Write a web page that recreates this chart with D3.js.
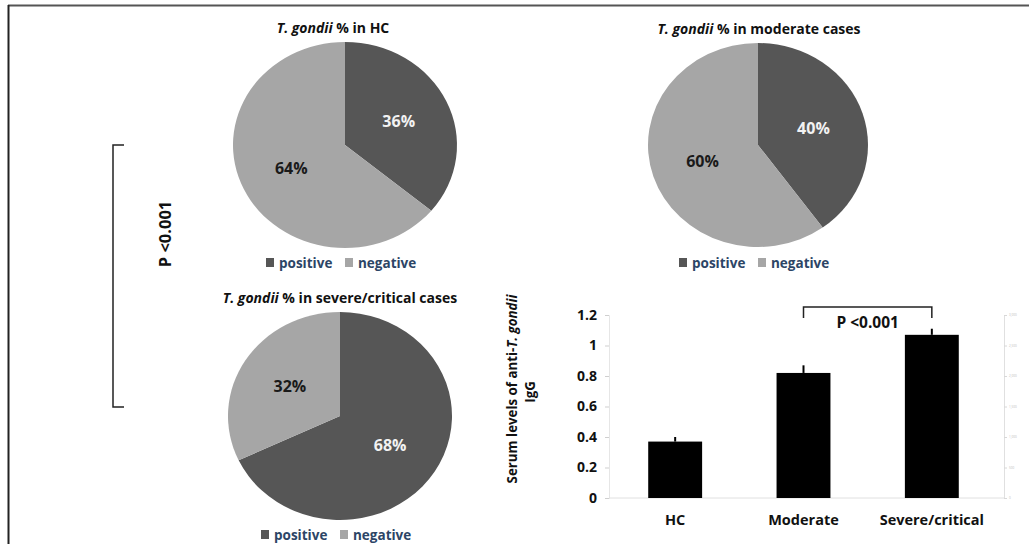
<!DOCTYPE html>
<html>
<head>
<meta charset="utf-8">
<script src="https://cdn.jsdelivr.net/npm/d3@7"></script>
<style>
  body { margin: 0; background: #fff; }
  text { font-family: "Open Sans", Lato, sans-serif; font-weight: 700; }
</style>
</head>
<body>
<div id="chart"></div>
<script>
// pie data (percentages)
const pieGroups = ['in HC', 'in moderate cases', 'in severe/critical cases'];
const positivePct = [36, 40, 68];
const negativePct = [64, 60, 32];
const legendLabels = ['positive', 'negative'];

// bar data
const barCategories = ['HC', 'Moderate', 'Severe/critical'];
const barMeans = [0.37, 0.82, 1.07];
const barErrors = [0.03, 0.05, 0.04];
const yTicks = [0, 0.2, 0.4, 0.6, 0.8, 1, 1.2];
const rightTicks = [0, 500, 1000, 1500, 2000, 2500, 3000];

const W = 1029, H = 544;
const colors = { positive: '#565656', negative: '#a6a6a6' };

const svg = d3.select('#chart').append('svg')
  .attr('width', W).attr('height', H);

// frame (top + left)
svg.append('line').attr('x1', 8).attr('x2', W).attr('y1', 5.5).attr('y2', 5.5)
  .attr('stroke', '#555').attr('stroke-width', 2);
svg.append('line').attr('x1', 8.5).attr('x2', 8.5).attr('y1', 5).attr('y2', H)
  .attr('stroke', '#222').attr('stroke-width', 2);

// layout of the three pies
const pieLayout = [
  { cx: 345, cy: 145, rx: 112, ry: 103, titleX: 333, titleY: 28, legendY: 263 },
  { cx: 758, cy: 145, rx: 110, ry: 102, titleX: 759, titleY: 29, legendY: 263 },
  { cx: 340, cy: 416, rx: 112, ry: 104, titleX: 340, titleY: 298, legendY: 535 },
];

const pie = d3.pie().sort(null).value((d) => d.value);

pieLayout.forEach((p, i) => {
  const data = [
    { key: 'positive', value: positivePct[i] },
    { key: 'negative', value: negativePct[i] },
  ];
  const sx = p.rx / p.ry;
  const arc = d3.arc().innerRadius(0).outerRadius(p.ry);
  const labelArc = d3.arc().innerRadius(p.ry * 0.53).outerRadius(p.ry * 0.53);

  const g = svg.append('g').attr('transform', `translate(${p.cx},${p.cy})`);
  g.append('g').attr('transform', `scale(${sx},1)`)
    .selectAll('path')
    .data(pie(data))
    .enter()
    .append('path')
    .attr('d', arc)
    .attr('fill', (d) => colors[d.data.key]);

  g.selectAll('text.lbl')
    .data(pie(data))
    .enter()
    .append('text')
    .attr('class', 'lbl')
    .attr('x', (d) => labelArc.centroid(d)[0] * sx)
    .attr('y', (d) => labelArc.centroid(d)[1])
    .attr('dy', '0.35em')
    .attr('text-anchor', 'middle')
    .style('font-size', '16px')
    .attr('fill', (d) => (d.data.key === 'positive' ? '#f2f2f2' : '#1a1a1a'))
    .text((d) => d.data.value + '%');

  // title
  const t = svg.append('text')
    .attr('x', p.titleX).attr('y', p.titleY).attr('dy', '0.35em')
    .attr('text-anchor', 'middle')
    .style('font-size', '14px')
    .attr('fill', '#111');
  t.append('tspan').style('font-style', 'italic').text('T. gondii');
  t.append('tspan').text(' % ' + pieGroups[i]);

  // legend
  const lg = svg.append('g').attr('transform', `translate(${p.cx},${p.legendY})`);
  const items = lg.selectAll('g').data(legendLabels).enter().append('g')
    .attr('transform', (d, j) => `translate(${j === 0 ? -79 : 0},0)`);
  items.append('rect').attr('x', 0).attr('y', -5).attr('width', 8).attr('height', 9)
    .attr('fill', (d) => colors[d]);
  items.append('text').attr('x', 13).attr('y', 0).attr('dy', '0.35em')
    .style('font-size', '13.5px').attr('fill', '#2c4566').text((d) => d);
});

// left significance bracket
svg.append('path')
  .attr('d', 'M124,145 H113 V407 H124')
  .attr('fill', 'none').attr('stroke', '#222').attr('stroke-width', 1.5);
svg.append('text')
  .attr('transform', 'translate(165,234) rotate(-90)')
  .attr('text-anchor', 'middle').attr('dy', '0.35em')
  .style('font-size', '16.5px').attr('fill', '#111')
  .text('P <0.001');

// bar chart
const y = d3.scaleLinear().domain([0, 1.2]).range([498, 315]);
const x = d3.scaleBand().domain(barCategories).range([611, 996])
  .paddingInner(0.58).paddingOuter(0.29);

const yAxis = svg.append('g').attr('transform', 'translate(609,0)')
  .call(d3.axisLeft(y).tickValues(yTicks).tickSize(4).tickPadding(8)
    .tickFormat((d) => String(d)));
yAxis.select('.domain').attr('stroke', '#e6e6e6');
yAxis.selectAll('.tick line').attr('stroke', '#cfcfcf');
yAxis.selectAll('.tick text').style('font-size', '14px').attr('fill', '#111')
  .style('font-family', '"Open Sans", sans-serif').style('font-weight', 700);

// right secondary axis (faint)
const yR = d3.scaleLinear().domain([0, 3000]).range([498, 315]);
const rAxis = svg.append('g').attr('transform', 'translate(1004,0)')
  .call(d3.axisRight(yR).tickValues(rightTicks).tickSize(3).tickPadding(2));
rAxis.select('.domain').attr('stroke', '#e0e0e0');
rAxis.selectAll('.tick line').attr('stroke', '#d8d8d8');
rAxis.selectAll('.tick text').style('font-size', '3px').attr('fill', '#bbb')
  .style('font-weight', 400);

// baseline
svg.append('line').attr('x1', 609).attr('x2', 1004).attr('y1', y(0)).attr('y2', y(0))
  .attr('stroke', '#e0e0e0');

svg.selectAll('.bar')
  .data(barCategories)
  .enter()
  .append('rect')
  .attr('class', 'bar')
  .attr('x', (d) => x(d))
  .attr('y', (d, i) => y(barMeans[i]))
  .attr('width', x.bandwidth())
  .attr('height', (d, i) => y(0) - y(barMeans[i]))
  .attr('fill', '#000');

// error bars (upper only)
svg.selectAll('.err')
  .data(barCategories)
  .enter()
  .append('line')
  .attr('class', 'err')
  .attr('x1', (d) => x(d) + x.bandwidth() / 2)
  .attr('x2', (d) => x(d) + x.bandwidth() / 2)
  .attr('y1', (d, i) => y(barMeans[i]))
  .attr('y2', (d, i) => y(barMeans[i] + barErrors[i]))
  .attr('stroke', '#000').attr('stroke-width', 2);

// x labels
svg.selectAll('.xl')
  .data(barCategories)
  .enter()
  .append('text')
  .attr('class', 'xl')
  .attr('x', (d) => x(d) + x.bandwidth() / 2)
  .attr('y', 520).attr('dy', '0.35em')
  .attr('text-anchor', 'middle')
  .style('font-size', '14.5px').attr('fill', '#111')
  .text((d) => d);

// y title
const yt = svg.append('text')
  .attr('transform', 'translate(512,389) rotate(-90)')
  .attr('text-anchor', 'middle').attr('dy', '0.35em')
  .style('font-size', '13.3px').attr('fill', '#111');
yt.append('tspan').text('Serum levels of anti-');
yt.append('tspan').style('font-style', 'italic').text('T. gondii');
svg.append('text')
  .attr('transform', 'translate(530,392) rotate(-90)')
  .attr('text-anchor', 'middle').attr('dy', '0.35em')
  .style('font-size', '13.3px').attr('fill', '#111')
  .text('IgG');

// significance bracket between moderate and severe
const bx1 = x('Moderate') + x.bandwidth() / 2;
const bx2 = x('Severe/critical') + x.bandwidth() / 2;
svg.append('path')
  .attr('d', `M${bx1},318 V307 H${bx2} V318`)
  .attr('fill', 'none').attr('stroke', '#222').attr('stroke-width', 1.5);
svg.append('text')
  .attr('x', (bx1 + bx2) / 2).attr('y', 323).attr('dy', '0.35em')
  .attr('text-anchor', 'middle')
  .style('font-size', '15.5px').attr('fill', '#111')
  .text('P <0.001');
</script>
</body>
</html>
